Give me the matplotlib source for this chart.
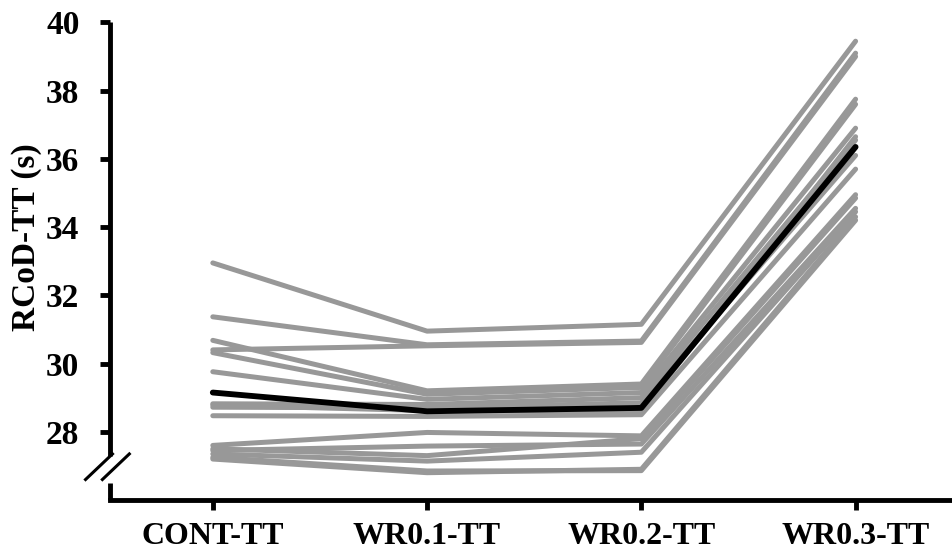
import numpy as np
import matplotlib.pyplot as plt
from matplotlib.transforms import blended_transform_factory

plt.rcParams['font.family'] = ['Liberation Serif', 'DejaVu Serif']
plt.rcParams['font.weight'] = 'bold'

conditions = ['CONT-TT', 'WR0.1-TT', 'WR0.2-TT', 'WR0.3-TT']

# one row per participant: CONT, WR0.1, WR0.2, WR0.3
subjects = np.array([
    [32.95, 30.95, 31.15, 39.45],
    [31.37, 30.55, 30.66, 39.10],
    [30.40, 30.52, 30.62, 39.00],
    [30.68, 29.20, 29.40, 37.75],
    [30.32, 29.10, 29.30, 37.60],
    [29.76, 28.95, 29.15, 36.90],
    [28.82, 28.80, 29.00, 36.55],
    [28.72, 28.70, 28.85, 36.10],
    [28.47, 28.45, 28.50, 35.70],
    [28.78, 28.62, 28.60, 36.65],
    [27.60, 27.98, 27.88, 34.95],
    [27.45, 27.58, 27.64, 34.55],
    [27.35, 27.14, 27.40, 34.45],
    [27.25, 26.85, 26.86, 34.20],
    [27.50, 27.30, 27.80, 34.85],
    [27.20, 26.80, 26.90, 34.30],
])
mean_line = [29.15, 28.60, 28.70, 36.35]

yticks = [28, 30, 32, 34, 36, 38, 40]

fig = plt.figure(figsize=(9.52, 5.54), dpi=100)
ax = fig.add_axes([0.1155, 0.0975, 0.8845, 0.862])

x = np.arange(len(conditions))
for row in subjects:
    ax.plot(x, row, color='#989898', lw=3.6, solid_capstyle='round',
            solid_joinstyle='round', zorder=2)
ax.plot(x, mean_line, color='black', lw=4.2, solid_capstyle='round',
        solid_joinstyle='round', zorder=3)

ax.set_xlim(-0.48, 3.45)
ax.set_ylim(26, 40)
ax.set_xticks(x)
ax.set_xticklabels(conditions)
ax.set_yticks(yticks)

for s in ['top', 'right']:
    ax.spines[s].set_visible(False)
ax.spines['left'].set_linewidth(3.5)
ax.spines['bottom'].set_linewidth(3.5)
ax.spines['left'].set_bounds(27.3, 40)
ax.spines['left'].set_capstyle('butt')

# lower stub of the broken y axis and the break marks
tr = blended_transform_factory(ax.transAxes, ax.transData)
ax.plot([0, 0], [26, 26.5], color='black', lw=3.5, transform=tr, clip_on=False,
        solid_capstyle='butt')
for dx in (-0.013, 0.007):
    ax.plot([dx - 0.016, dx + 0.016], [26.6, 27.35], color='black', lw=2.2,
            transform=tr, clip_on=False)

ax.tick_params(axis='both', width=3.5, length=7)
ax.tick_params(axis='y', pad=15, labelsize=24)
ax.tick_params(axis='x', pad=9, labelsize=23)
for lab in ax.get_xticklabels() + ax.get_yticklabels():
    lab.set_fontweight('bold')

ax.set_ylabel('RCoD-TT (s)', fontsize=24, fontweight='bold')
ax.yaxis.set_label_coords(-0.081, 0.55)

fig.savefig('out.png', dpi=100)
